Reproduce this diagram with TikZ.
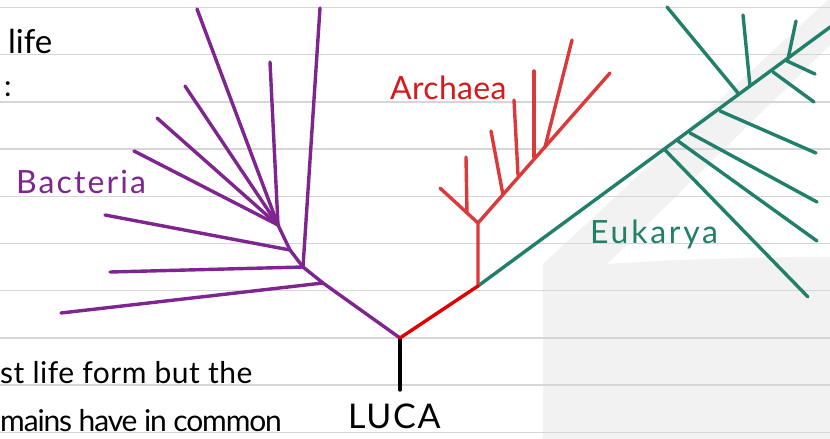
\documentclass[tikz,border=0pt]{standalone}
\usepackage{fontspec}
\setmainfont{Lato}
\definecolor{bactpurple}{HTML}{7F2590}
\definecolor{archred}{HTML}{DC3A3A}
\definecolor{rootred}{HTML}{E00000}
\definecolor{labred}{HTML}{D7191C}
\definecolor{eukgreen}{HTML}{21806A}
\definecolor{rulegray}{HTML}{D6D6D6}
\definecolor{shadegray}{HTML}{F2F2F2}
\begin{document}
\begin{tikzpicture}[x=1pt,y=-1pt,
  branch/.style={line width=3.4pt, line cap=round, line join=round},
  rule/.style={draw=rulegray, line width=1.4pt},
  lbl/.style={inner sep=0pt, anchor=base west, font=\fontsize{32}{38}\selectfont}]
\useasboundingbox (0,0) rectangle (830,439);
\clip (0,0) rectangle (830,439);
\fill[white] (0,0) rectangle (830,439);
% background watermark shape
\fill[shadegray] (543,439) -- (543,264) -- (830,-2) -- (830,45) -- (607,264)
  .. controls (680,259) and (760,257) .. (830,257) -- (830,439) -- cycle;
% ruled lines
\foreach \yy in {7.5,54.7,101.9,149.1,196.3,243.5,290.7,337.9,385.1,432.3}
  \draw[rule] (0,\yy) -- (830,\yy);

% ---------- coordinates ----------
\coordinate (root) at (400,338);
\coordinate (stem) at (400,390);
% bacteria
\coordinate (pA) at (323,283);
\coordinate (pB) at (303,267);
\coordinate (pC) at (290,250);
\coordinate (pD) at (278,225);
\coordinate (p1) at (61,313);
\coordinate (p2) at (110,272);
\coordinate (p3) at (320,8);
\coordinate (p4) at (105,215);
\coordinate (p5) at (134,151);
\coordinate (p6) at (157,118);
\coordinate (p7) at (185,86);
\coordinate (p8) at (197,9);
\coordinate (p9) at (270,62);
% archaea
\coordinate (rA) at (478,286);
\coordinate (rB) at (478,223);
\coordinate (rC) at (440,188);
\coordinate (rD) at (467,213);
\coordinate (rE) at (466,157);
\coordinate (rF) at (610,73);
\coordinate (a1s) at (503,195); \coordinate (a1e) at (491,131);
\coordinate (a2s) at (518,175); \coordinate (a2e) at (514,100);
\coordinate (a3s) at (534,157); \coordinate (a3e) at (534,71);
\coordinate (a4s) at (545,147); \coordinate (a4e) at (572,40);
% eukarya
\coordinate (gEnd) at (852,11);
\coordinate (e1s) at (665,150); \coordinate (e1e) at (808,297);
\coordinate (e2s) at (678,141); \coordinate (e2e) at (817,241);
\coordinate (e3s) at (690,133); \coordinate (e3e) at (817,202);
\coordinate (e4s) at (720,111); \coordinate (e4e) at (816,153);
\coordinate (e5s) at (773,72);  \coordinate (e5e) at (814,102);
\coordinate (e6s) at (787,61);  \coordinate (e6e) at (815,74);
\coordinate (e7s) at (738,93);  \coordinate (e7e) at (667,7);
\coordinate (e8s) at (750,86);  \coordinate (e8e) at (743,15);
\coordinate (e9s) at (788,59);  \coordinate (e9e) at (796,21);

% ---------- branches ----------
\draw[branch] (root) -- (stem);
\draw[branch, bactpurple] (root) -- (pA) -- (pB) -- (pC) -- (pD);
\draw[branch, bactpurple] (pA) -- (p1);
\draw[branch, bactpurple] (pB) -- (p2);
\draw[branch, bactpurple] (pB) -- (p3);
\draw[branch, bactpurple] (pC) -- (p4);
\foreach \e in {p5,p6,p7,p8,p9}
  \draw[branch, bactpurple] (pD) -- (\e);

\draw[branch, eukgreen] (rA) -- (gEnd);
\foreach \i in {1,...,9}
  \draw[branch, eukgreen] (e\i s) -- (e\i e);

\draw[branch, archred] (rA) -- (rB) -- (rF);
\draw[branch, archred] (rB) -- (rC);
\draw[branch, archred] (rD) -- (rE);
\foreach \i in {1,...,4}
  \draw[branch, archred] (a\i s) -- (a\i e);
\draw[branch, rootred] (root) -- (rA);

% ---------- labels ----------
\node[lbl, text=bactpurple, font=\fontsize{32}{38}\selectfont\addfontfeature{LetterSpace=6.5}] (bact) at (16,193) {Bacteria};
\node[lbl, text=labred, font=\fontsize{32}{38}\selectfont\addfontfeature{LetterSpace=1}] (arch) at (390,99) {Archaea};
\node[lbl, text=eukgreen, font=\fontsize{32}{38}\selectfont\addfontfeature{LetterSpace=8.5}] (euk) at (590,243) {Eukarya};
\node[lbl, font=\fontsize{34}{40}\selectfont\addfontfeature{LetterSpace=5}] (luca) at (348,428) {LUCA};
\node[lbl, font=\fontsize{33}{40}\selectfont] (life) at (8,53) {life};
\node[lbl, font=\fontsize{30}{36}\selectfont] (colon) at (4,96) {:};
\node[lbl, font=\fontsize{30}{36}\selectfont\addfontfeature{LetterSpace=1.6}] (line1) at (0,383) {st life form but the};
\node[lbl, font=\fontsize{30}{36}\selectfont\addfontfeature{LetterSpace=-3.8}] (line2) at (0,431) {mains have in common};
\end{tikzpicture}
\end{document}
